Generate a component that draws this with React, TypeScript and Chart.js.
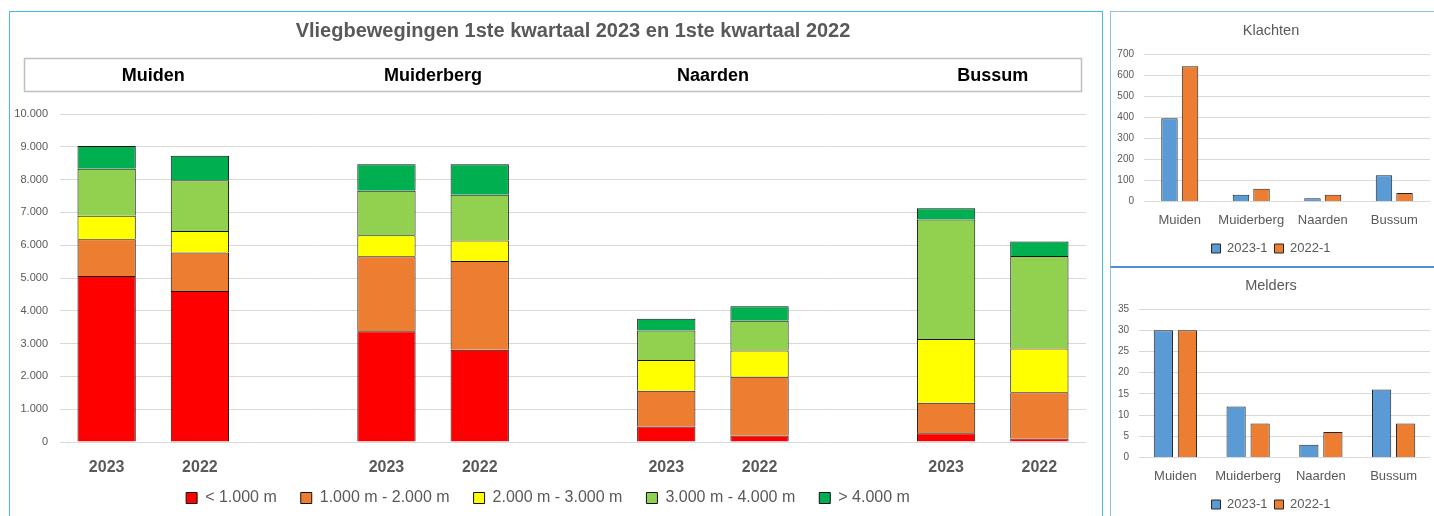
import React, { useEffect, useRef } from "react";
import { Chart, registerables } from "chart.js";

Chart.register(...registerables);
Chart.defaults.font.family = "'Liberation Sans', Arial, sans-serif";

// ---------- Data: main stacked chart ----------
const mainTitle = "Vliegbewegingen 1ste kwartaal 2023 en 1ste kwartaal 2022";
const towns = ["Muiden", "Muiderberg", "Naarden", "Bussum"];
const yearLabels = ["2023", "2022", "", "2023", "2022", "", "2023", "2022", "", "2023", "2022"];
const bandNames = ["< 1.000 m", "1.000 m - 2.000 m", "2.000 m - 3.000 m", "3.000 m - 4.000 m", "> 4.000 m"];
const below1000 = [5060, 4600, null, 3380, 2810, null, 470, 200, null, 270, 110];
const from1000to2000 = [1120, 1180, null, 2280, 2710, null, 1090, 1790, null, 930, 1410];
const from2000to3000 = [720, 650, null, 640, 620, null, 940, 800, null, 1940, 1330];
const from3000to4000 = [1430, 1550, null, 1360, 1400, null, 900, 910, null, 3640, 2820];
const above4000 = [695, 750, null, 810, 930, null, 360, 440, null, 350, 440];
const bandColors = ["#FF0000", "#ED7D31", "#FFFF00", "#92D050", "#00B050"];
const mainYTicks = [0, 1000, 2000, 3000, 4000, 5000, 6000, 7000, 8000, 9000, 10000];

// ---------- Data: small charts ----------
const smallCategories = ["Muiden", "Muiderberg", "Naarden", "Bussum"];
const seriesNames = ["2023-1", "2022-1"];
const klachten2023 = [395, 32, 16, 124];
const klachten2022 = [642, 60, 32, 40];
const melders2023 = [30, 12, 3, 16];
const melders2022 = [30, 8, 6, 8];
const klachtenTicks = [0, 100, 200, 300, 400, 500, 600, 700];
const meldersTicks = [0, 5, 10, 15, 20, 25, 30, 35];

const GRAY = "#595959";
const GRID = "#D9D9D9";

const fmtNL = (v: number) => String(v).replace(/\B(?=(\d{3})+(?!\d))/g, ".");

const townBoxPlugin = {
  id: "townBox",
  afterLayout(chart: any) {
    // let the year labels extend below the (short) x-axis box without being clipped
    const x = chart.scales.x;
    x.bottom = x.top + 48;
  },
  afterDraw(chart: any) {
    const { ctx } = chart;
    const x = chart.scales.x;
    ctx.save();
    ctx.strokeStyle = "#BFBFBF";
    ctx.lineWidth = 1.5;
    ctx.strokeRect(14.5, 46.5, 1057, 33);
    ctx.fillStyle = "#000000";
    ctx.font = "bold 18px 'Liberation Sans', Arial, sans-serif";
    ctx.textAlign = "center";
    ctx.textBaseline = "middle";
    towns.forEach((t, i) => {
      const cx = (x.getPixelForValue(i * 3) + x.getPixelForValue(i * 3 + 1)) / 2;
      ctx.fillText(t, cx, 64);
    });
    ctx.restore();
  },
};

function MainChart() {
  const ref = useRef<HTMLCanvasElement | null>(null);
  useEffect(() => {
    if (!ref.current) return;
    const series = [below1000, from1000to2000, from2000to3000, from3000to4000, above4000];
    const chart = new Chart(ref.current, {
      type: "bar",
      data: {
        labels: yearLabels,
        datasets: series.map((d, i) => ({
          label: bandNames[i],
          data: d as any,
          backgroundColor: bandColors[i],
          borderColor: "#111111",
          borderWidth: 1,
          barPercentage: 0.625,
          categoryPercentage: 1,
        })),
      },
      options: {
        animation: false,
        responsive: false,
        maintainAspectRatio: false,
        layout: { padding: { left: 0, right: 16, top: 0, bottom: 0 } },
        plugins: {
          title: {
            display: true,
            fullSize: false,
            text: mainTitle,
            color: GRAY,
            font: { size: 20, weight: "bold" },
            padding: { top: 7, bottom: 71 },
          },
          legend: {
            position: "bottom",
            labels: {
              boxWidth: 11,
              boxHeight: 11,
              padding: 24,
              color: GRAY,
              font: { size: 16 },
            },
          },
          tooltip: { enabled: false },
        },
        scales: {
          x: {
            stacked: true,
            grid: { display: false, drawTicks: false },
            border: { display: false },
            ticks: { color: GRAY, font: { size: 16, weight: "bold" }, padding: 15.5, maxRotation: 0, autoSkip: false },
            afterFit: (s: any) => {
              s.height = 24;
            },
          },
          y: {
            stacked: true,
            min: 0,
            max: 10000,
            afterBuildTicks: (s: any) => {
              s.ticks = mainYTicks.map((v) => ({ value: v }));
            },
            grid: { color: GRID, drawTicks: false, lineWidth: 1 },
            border: { display: false },
            ticks: {
              color: GRAY,
              font: { size: 11 },
              padding: 12,
              callback: (v: any) => fmtNL(Number(v)),
            },
            afterFit: (s: any) => {
              s.width = 50;
            },
          },
        },
      },
      plugins: [townBoxPlugin],
    });
    return () => chart.destroy();
  }, []);
  return <canvas ref={ref} width={1092} height={504} style={{ width: 1092, height: 504, display: "block" }} />;
}

function SmallChart(props: {
  title: string;
  a: number[];
  b: number[];
  ticks: number[];
  catPct: number;
  height: number;
  padBottom: number;
  yWidth: number;
}) {
  const ref = useRef<HTMLCanvasElement | null>(null);
  useEffect(() => {
    if (!ref.current) return;
    const { title, a, b, ticks, catPct, padBottom, yWidth } = props;
    const chart = new Chart(ref.current, {
      type: "bar",
      data: {
        labels: smallCategories,
        datasets: [
          {
            label: seriesNames[0],
            data: a,
            backgroundColor: "#5B9BD5",
            borderColor: "#262626",
            borderWidth: 1,
            barPercentage: 0.8,
            categoryPercentage: catPct,
          },
          {
            label: seriesNames[1],
            data: b,
            backgroundColor: "#ED7D31",
            borderColor: "#262626",
            borderWidth: 1,
            barPercentage: 0.8,
            categoryPercentage: catPct,
          },
        ],
      },
      options: {
        animation: false,
        responsive: false,
        maintainAspectRatio: false,
        layout: { padding: { left: 0, right: 4, top: 0, bottom: padBottom } },
        plugins: {
          title: {
            display: true,
            text: title,
            color: GRAY,
            font: { size: 14.5, weight: "normal" },
            padding: { top: 9, bottom: 14.6 },
          },
          legend: {
            position: "bottom",
            labels: {
              boxWidth: 9,
              boxHeight: 9,
              padding: 7,
              color: GRAY,
              font: { size: 13 },
            },
          },
          tooltip: { enabled: false },
        },
        scales: {
          x: {
            grid: { display: false, drawTicks: false },
            border: { display: false },
            ticks: { color: GRAY, font: { size: 13 }, padding: 11.5, maxRotation: 0, minRotation: 0, autoSkip: false },
            afterFit: (s: any) => {
              s.height = 33.5;
            },
          },
          y: {
            min: 0,
            max: ticks[ticks.length - 1],
            afterBuildTicks: (s: any) => {
              s.ticks = ticks.map((v) => ({ value: v }));
            },
            grid: { color: GRID, drawTicks: false },
            border: { display: false },
            ticks: { color: GRAY, font: { size: 10 }, padding: 10 },
            afterFit: (s: any) => {
              s.width = yWidth;
            },
          },
        },
      },
    });
    return () => chart.destroy();
  }, []);
  return (
    <canvas
      ref={ref}
      width={322}
      height={props.height}
      style={{ width: 322, height: props.height, display: "block" }}
    />
  );
}

export default function App() {
  return (
    <div
      style={{
        position: "fixed",
        left: 0,
        top: 0,
        width: 1434,
        height: 516,
        overflow: "hidden",
        background: "#FFFFFF",
      }}
    >
      <div
        style={{
          position: "absolute",
          left: 9,
          top: 11,
          width: 1094,
          height: 530,
          border: "1.5px solid #45BDEB",
          boxSizing: "border-box",
        }}
      />
      <div style={{ position: "absolute", left: 10, top: 12 }}>
        <MainChart />
      </div>
      <div
        style={{
          position: "absolute",
          left: 1110,
          top: 11,
          width: 340,
          height: 257,
          border: "1.5px solid #8FC3EA",
          boxSizing: "border-box",
        }}
      />
      <div
        style={{
          position: "absolute",
          left: 1110,
          top: 266,
          width: 340,
          height: 270,
          borderLeft: "1.5px solid #8FC3EA",
          borderTop: "2px solid #4F8FD3",
          boxSizing: "border-box",
        }}
      />
      <div style={{ position: "absolute", left: 1112, top: 13 }}>
        <SmallChart title="Klachten" a={klachten2023} b={klachten2022} ticks={klachtenTicks} catPct={0.575} height={253} padBottom={1} yWidth={32} />
      </div>
      <div style={{ position: "absolute", left: 1112, top: 268 }}>
        <SmallChart title="Melders" a={melders2023} b={melders2022} ticks={meldersTicks} catPct={0.66} height={257} padBottom={4} yWidth={27} />
      </div>
    </div>
  );
}
